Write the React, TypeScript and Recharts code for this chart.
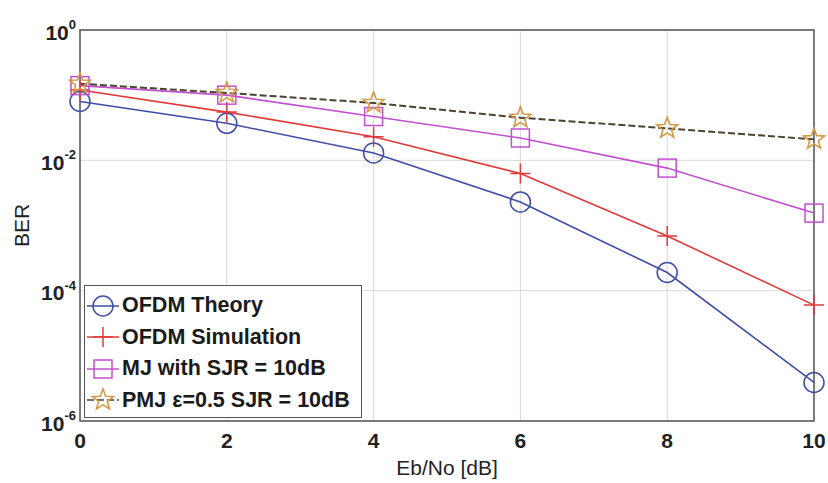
import React from "react";
import {
  LineChart,
  Line,
  XAxis,
  YAxis,
  CartesianGrid,
  ReferenceArea,
  Label,
} from "recharts";

// Eb/No in dB
const ebNo = [0, 2, 4, 6, 8, 10];

// BER values
const ofdmTheory = [0.08, 0.037, 0.013, 0.0023, 0.00019, 0.0000039];
const ofdmSimulation = [0.12, 0.055, 0.023, 0.0063, 0.00069, 0.00006];
const mjSjr10 = [0.14, 0.1, 0.047, 0.022, 0.0076, 0.00155];
const pmjSjr10 = [0.15, 0.108, 0.076, 0.045, 0.031, 0.021];

const xTicks = [0, 2, 4, 6, 8, 10];
const yTicks = [1e-6, 1e-4, 1e-2, 1];

const data = ebNo.map((x, i) => ({
  x,
  theory: ofdmTheory[i],
  sim: ofdmSimulation[i],
  mj: mjSjr10[i],
  pmj: pmjSjr10[i],
}));

const FONT = '"Liberation Sans", Arial, Helvetica, sans-serif';

type Kind = "circle" | "plus" | "square" | "star";

const series: {
  key: string;
  name: string;
  color: string;
  markerColor: string;
  dash?: string;
  kind: Kind;
}[] = [
  { key: "theory", name: "OFDM Theory", color: "#3f4da6", markerColor: "#3f4da6", kind: "circle" },
  { key: "sim", name: "OFDM Simulation", color: "#e23a3a", markerColor: "#e23a3a", kind: "plus" },
  { key: "mj", name: "MJ with SJR = 10dB", color: "#c24fd0", markerColor: "#c24fd0", kind: "square" },
  { key: "pmj", name: "PMJ \u03b5=0.5 SJR = 10dB", color: "#4e4330", markerColor: "#d39a45", dash: "7 3", kind: "star" },
];

function starPath(cx: number, cy: number, R: number, r: number) {
  let d = "";
  for (let i = 0; i < 10; i++) {
    const rad = i % 2 === 0 ? R : r;
    const a = -Math.PI / 2 + (i * Math.PI) / 5;
    d += (i === 0 ? "M" : "L") + (cx + rad * Math.cos(a)).toFixed(2) + "," + (cy + rad * Math.sin(a)).toFixed(2);
  }
  return d + "Z";
}

function Marker({ kind, cx, cy, color }: { kind: Kind; cx: number; cy: number; color: string }) {
  if (kind === "circle")
    return <circle cx={cx} cy={cy} r={10} fill="none" stroke={color} strokeWidth={1.5} />;
  if (kind === "plus")
    return (
      <path
        d={`M${cx - 10},${cy}H${cx + 10}M${cx},${cy - 10}V${cy + 10}`}
        stroke={color}
        strokeWidth={1.5}
        fill="none"
      />
    );
  if (kind === "square")
    return <rect x={cx - 9} y={cy - 9} width={18} height={18} fill="none" stroke={color} strokeWidth={1.5} />;
  return <path d={starPath(cx, cy, 11, 4.6)} fill="none" stroke={color} strokeWidth={1.6} />;
}

const makeDot = (kind: Kind, color: string) => (props: any) => {
  const { cx, cy, index } = props;
  if (cx == null || cy == null) return <g key={`${kind}-${index}`} />;
  return (
    <g key={`${kind}-${index}`}>
      <Marker kind={kind} cx={cx} cy={cy} color={color} />
    </g>
  );
};

const YTick = (props: any) => {
  const { x, y, payload } = props;
  const exp = Math.round(Math.log10(payload.value));
  return (
    <text x={x} y={y} textAnchor="end" fill="#222" fontFamily={FONT} fontWeight="bold">
      <tspan dy={9.5} fontSize={21}>10</tspan>
      <tspan dy={-10.5} fontSize={13}>{exp}</tspan>
    </text>
  );
};

const XTick = (props: any) => {
  const { x, y, payload } = props;
  return (
    <text x={x} y={y + 27} textAnchor="middle" fill="#222" fontFamily={FONT} fontSize={21} fontWeight="bold">
      {payload.value}
    </text>
  );
};

function LegendBox() {
  return (
    <div
      style={{
        position: "absolute",
        left: 84,
        top: 285,
        width: 278,
        height: 133,
        border: "1.5px solid #555",
        background: "#fff",
        boxSizing: "border-box",
        paddingTop: 4,
      }}
    >
      {series.map((s) => (
        <div key={s.key} style={{ display: "flex", alignItems: "center", height: 31.5 }}>
          <svg width={36} height={30} style={{ flex: "none" }}>
            <line x1={2} y1={15} x2={34} y2={15} stroke={s.color} strokeWidth={1.5} strokeDasharray={s.dash} />
            <Marker kind={s.kind} cx={18} cy={15} color={s.markerColor} />
          </svg>
          <span
            style={{
              fontFamily: FONT,
              fontSize: 21.5,
              fontWeight: "bold",
              color: "#1a1a1a",
              marginLeft: 1,
              whiteSpace: "nowrap",
            }}
          >
            {s.name}
          </span>
        </div>
      ))}
    </div>
  );
}

export default function App() {
  return (
    <div style={{ position: "absolute", left: 0, top: 0, width: 828, height: 483, background: "#fff" }}>
      <LineChart width={828} height={483} data={data} margin={{ top: 30, right: 14, left: 0, bottom: 0 }}>
        <CartesianGrid stroke="#d9d9d9" strokeWidth={1} />
        <XAxis
          dataKey="x"
          type="number"
          domain={[0, 10]}
          ticks={xTicks}
          height={62}
          axisLine={false}
          tickLine={false}
          tickSize={0}
          tickMargin={0}
          tick={<XTick />}
          interval={0}
        >
          <Label
            content={(p: any) => {
              const vb = p.viewBox;
              return (
                <text
                  x={vb.x + vb.width / 2}
                  y={vb.y + 54}
                  textAnchor="middle"
                  fill="#222"
                  fontFamily={FONT}
                  fontSize={21}
                >
                  Eb/No [dB]
                </text>
              );
            }}
          />
        </XAxis>
        <YAxis
          type="number"
          scale="log"
          domain={[1e-6, 1]}
          allowDataOverflow
          ticks={yTicks}
          width={80}
          axisLine={false}
          tickLine={false}
          tickSize={0}
          tickMargin={4}
          tick={<YTick />}
          interval={0}
        >
          <Label
            content={(p: any) => {
              const vb = p.viewBox;
              const cx = vb.x + 29;
              const cy = vb.y + vb.height / 2;
              return (
                <text
                  x={cx}
                  y={cy}
                  textAnchor="middle"
                  fill="#222"
                  fontFamily={FONT}
                  fontSize={21}
                  transform={`rotate(-90 ${cx} ${cy})`}
                >
                  BER
                </text>
              );
            }}
          />
        </YAxis>
        <ReferenceArea x1={0} x2={10} y1={1e-6} y2={1} fill="none" fillOpacity={0} stroke="#555" strokeWidth={1.5} />
        {series.map((s) => (
          <Line
            key={s.key}
            dataKey={s.key}
            name={s.name}
            type="linear"
            stroke={s.color}
            strokeWidth={s.dash ? 2 : 1.6}
            strokeDasharray={s.dash}
            dot={makeDot(s.kind, s.markerColor)}
            activeDot={false}
            isAnimationActive={false}
          />
        ))}
      </LineChart>
      <LegendBox />
    </div>
  );
}
